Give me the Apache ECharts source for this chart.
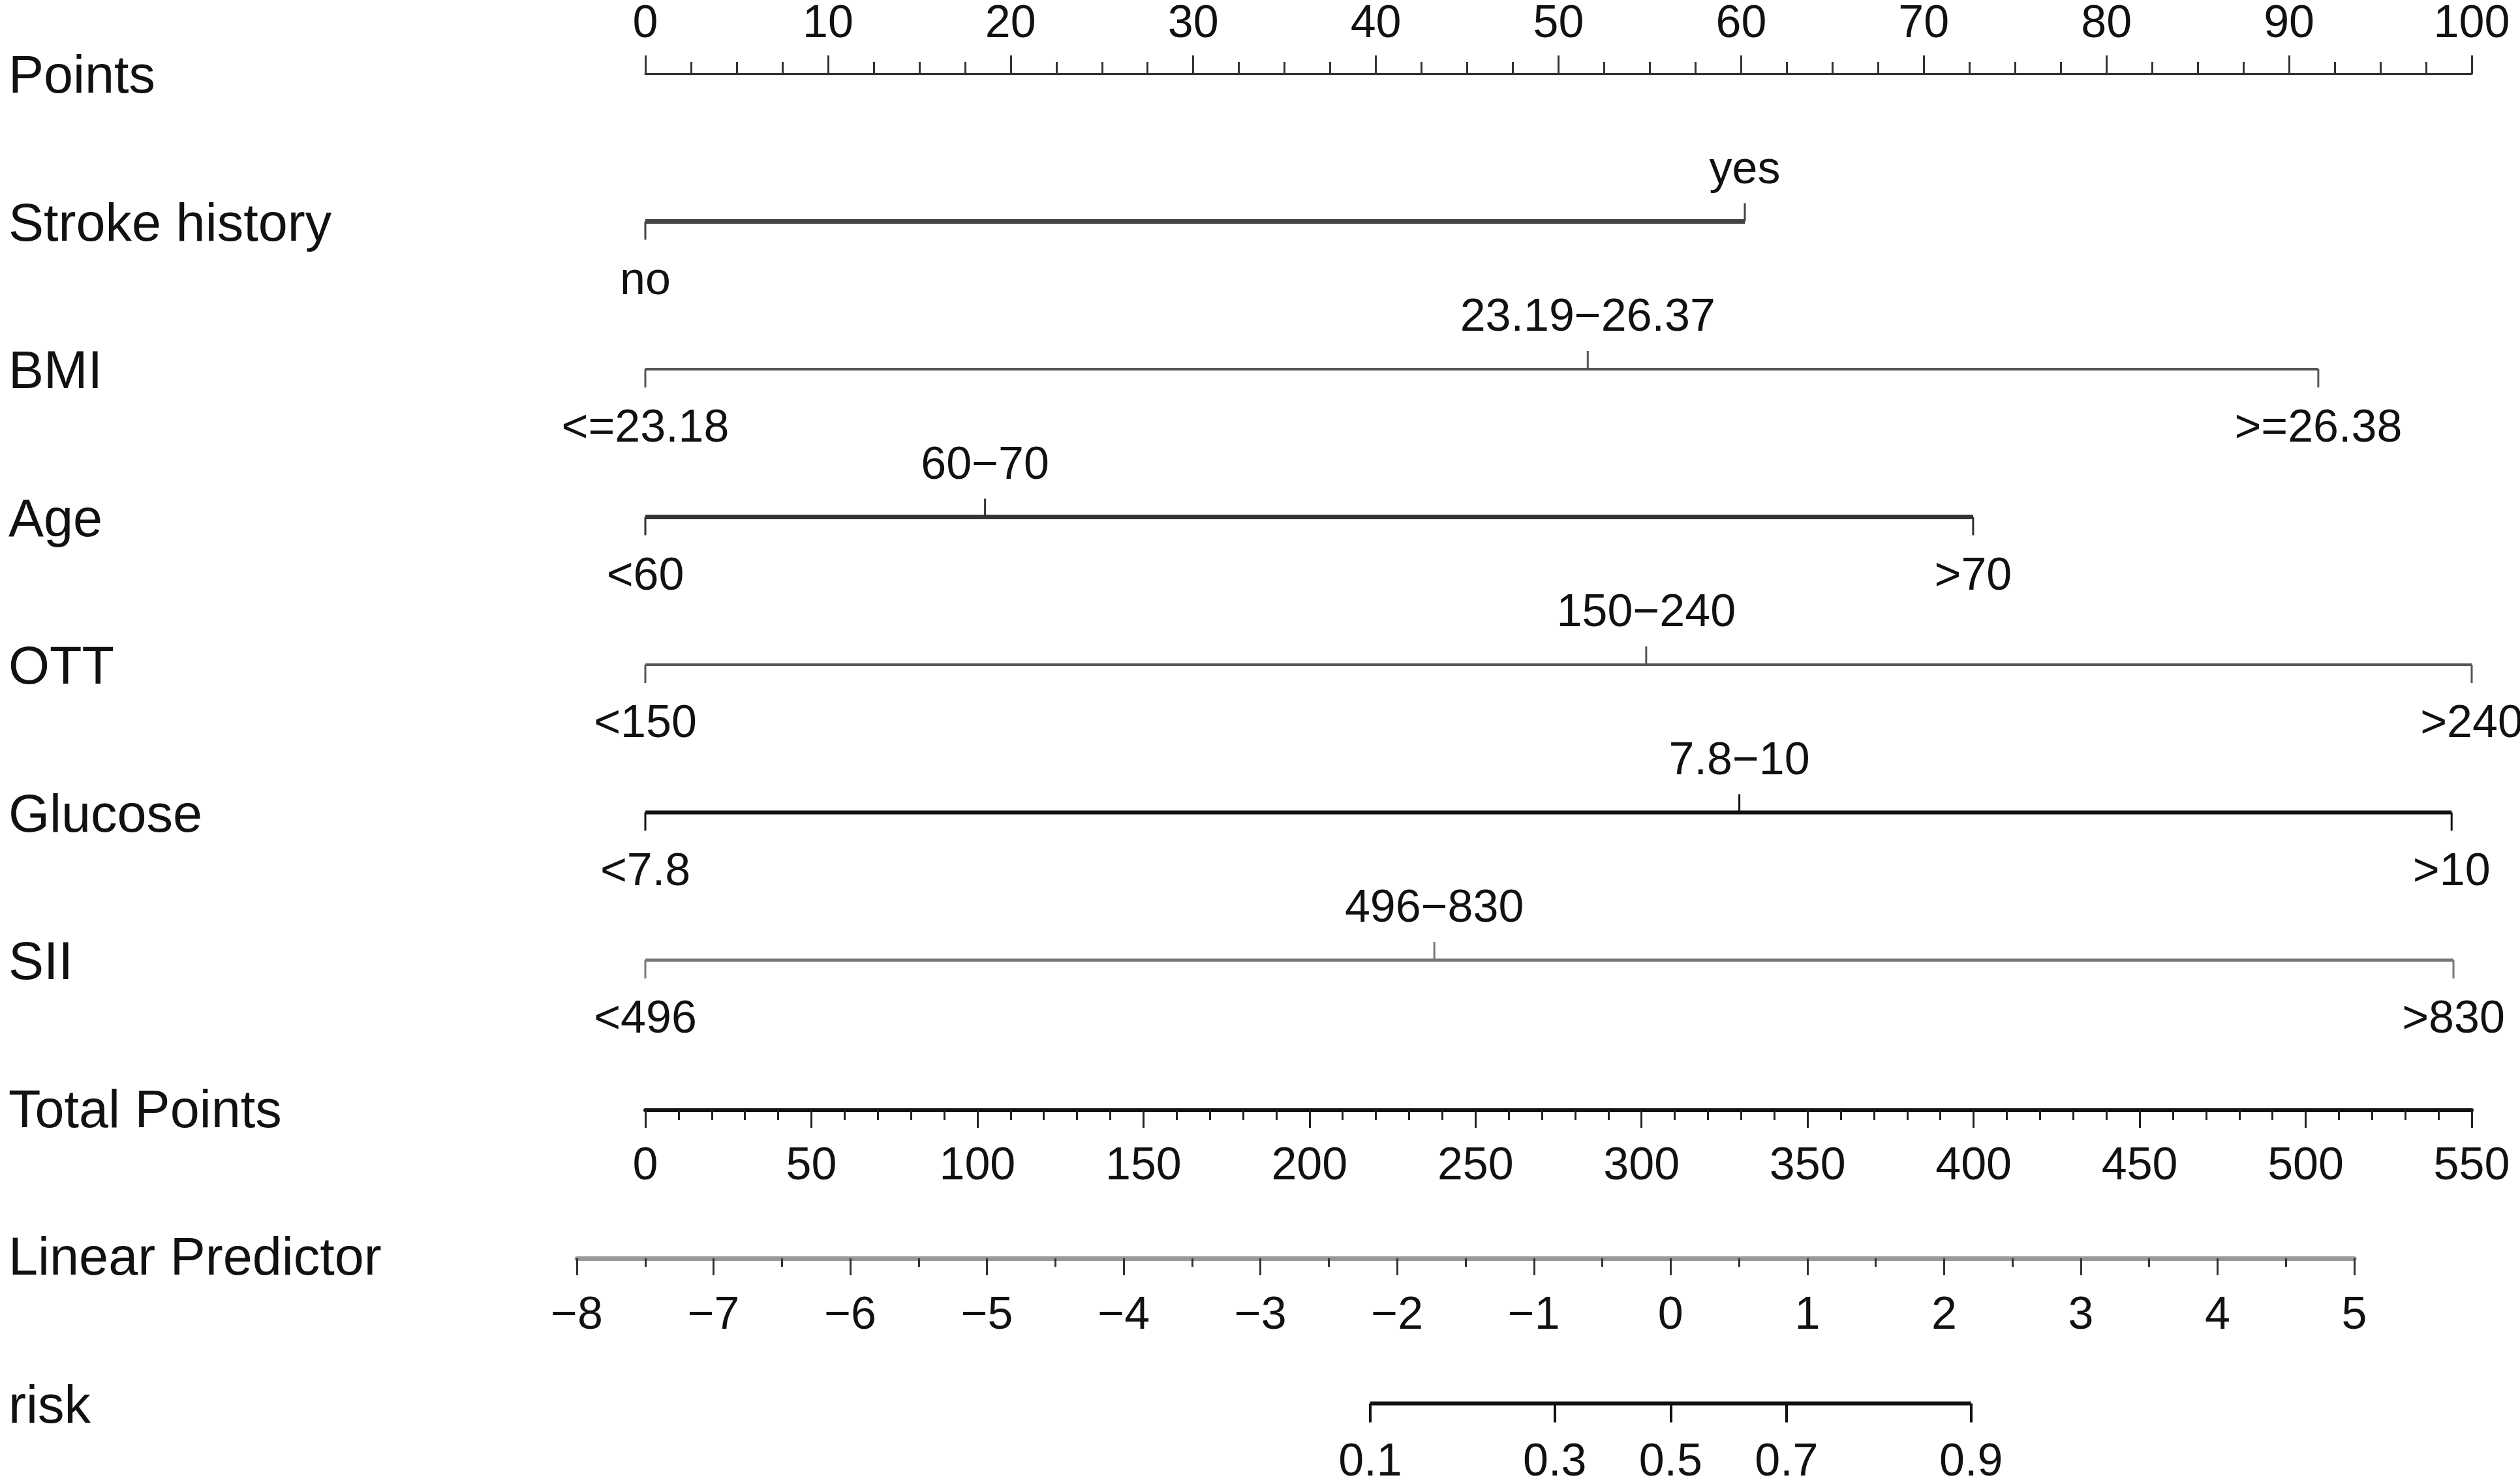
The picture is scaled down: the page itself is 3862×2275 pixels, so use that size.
<!DOCTYPE html>
<html>
<head>
<meta charset="utf-8">
<script src="https://cdn.jsdelivr.net/npm/echarts@6/dist/echarts.min.js"></script>
<style>
    html, body { margin: 0; padding: 0; background: #fff; }
    #chart { width: 3862px; height: 2275px; }
</style>
</head>
<body>
<div id="chart"></div>
<script>
const rowTitles = ['Points', 'Stroke history', 'BMI', 'Age', 'OTT', 'Glucose', 'SII', 'Total Points', 'Linear Predictor', 'risk'];

const varLabels = [
    ['no', 'yes'],
    ['<=23.18', '23.19\u221226.37', '>=26.38'],
    ['<60', '60\u221270', '>70'],
    ['<150', '150\u2212240', '>240'],
    ['<7.8', '7.8\u221210', '>10'],
    ['<496', '496\u2212830', '>830'],
];
const varPoints = [
    [0, 60.2],
    [0, 51.6, 91.6],
    [0, 18.6, 72.7],
    [0, 54.8, 100],
    [0, 59.9, 98.9],
    [0, 43.2, 99.0],
];
const riskTicks = [0.1, 0.3, 0.5, 0.7, 0.9];

const FONT = '"Liberation Sans", Arial, Helvetica, sans-serif';
const TXT = '#111';
const SMALL = 70;
// line look per variable row
const varLine = [
    { w: 7, c: '#444' },
    { w: 4, c: '#555' },
    { w: 7, c: '#333' },
    { w: 4, c: '#555' },
    { w: 6, c: '#111' },
    { w: 5, c: '#777' },
];

const minus = (v) => v < 0 ? '\u2212' + (-v) : String(v);
const logit = (p) => Math.log(p / (1 - p));

const chart = echarts.init(document.getElementById('chart'));

/** one variable row: line, ticks, level labels (alternating below / above) */
const renderVar = (params, api) => {
    const i = params.dataIndex;
    const row = api.value(1);
    const pts = varPoints[i];
    const st = varLine[i];
    const y = api.coord([0, row])[1];
    const xs = pts.map((p) => api.coord([p, row])[0]);
    const children = [{
        type: 'line',
        shape: { x1: xs[0], y1: y, x2: xs[xs.length - 1], y2: y },
        style: { stroke: st.c, lineWidth: st.w }
    }];
    xs.forEach((x, k) => {
        const up = k % 2 === 1;
        children.push({
            type: 'line',
            shape: { x1: x, y1: y, x2: x, y2: up ? y - 28 : y + 28 },
            style: { stroke: st.c, lineWidth: 3 }
        });
        children.push({
            type: 'text',
            style: {
                text: varLabels[i][k], x: x, y: up ? y - 78 : y + 92,
                align: 'center', verticalAlign: 'middle',
                fontSize: SMALL, fontFamily: FONT, fill: TXT
            }
        });
    });
    return { type: 'group', children };
};

const tickLabel = (margin) => ({
    fontSize: SMALL, fontFamily: FONT, color: TXT, margin: margin,
    showMinLabel: true, showMaxLabel: true
});

const hiddenY = (idx, max) => ({
    gridIndex: idx, type: 'value', min: 0, max: max, show: false
});

const options = {
    animation: false,
    backgroundColor: '#fff',
    grid: [
        { left: 989, right: 74, top: 113, bottom: 123.5, outerBoundsMode: 'none' },
        { left: 989, right: 74, top: 1682, height: 20, outerBoundsMode: 'none' },
        { left: 884, right: 254, top: 1909, height: 20, outerBoundsMode: 'none' },
        { left: 884, right: 254, top: 2131.5, height: 20, outerBoundsMode: 'none' },
    ],
    xAxis: [
        {
            gridIndex: 0, type: 'value', position: 'top', min: 0, max: 100, interval: 10,
            axisLine: { lineStyle: { color: '#333', width: 3 } },
            axisTick: { length: 28, lineStyle: { color: '#333', width: 3 } },
            minorTick: { show: true, splitNumber: 4, length: 18, lineStyle: { color: '#333', width: 3 } },
            axisLabel: tickLabel(40),
            splitLine: { show: false }
        },
        {
            gridIndex: 1, type: 'value', position: 'bottom', min: 0, max: 550, interval: 50,
            axisLine: { lineStyle: { color: '#111', width: 6 } },
            axisTick: { length: 27, lineStyle: { color: '#222', width: 3 } },
            minorTick: { show: true, splitNumber: 5, length: 15, lineStyle: { color: '#222', width: 3 } },
            axisLabel: tickLabel(52),
            splitLine: { show: false }
        },
        {
            gridIndex: 2, type: 'value', position: 'bottom', min: -8, max: 5, interval: 1,
            axisLine: { lineStyle: { color: '#999', width: 7 } },
            axisTick: { length: 26, lineStyle: { color: '#333', width: 3 } },
            minorTick: { show: true, splitNumber: 2, length: 13, lineStyle: { color: '#333', width: 3 } },
            axisLabel: { ...tickLabel(54), formatter: minus },
            splitLine: { show: false }
        },
        {
            gridIndex: 3, type: 'value', position: 'bottom', min: -8, max: 5,
            axisLine: { show: false },
            axisTick: { customValues: riskTicks.map(logit), length: 29, lineStyle: { color: '#111', width: 4 } },
            axisLabel: {
                ...tickLabel(56),
                customValues: riskTicks.map(logit),
                formatter: (v) => (1 / (1 + Math.exp(-v))).toFixed(1)
            },
            splitLine: { show: false }
        },
    ],
    yAxis: [
        {
            gridIndex: 0, type: 'value', min: 0, max: 9, interval: 1, inverse: true,
            axisLine: { show: false },
            axisTick: { show: false },
            splitLine: { show: false },
            axisLabel: {
                formatter: (v) => rowTitles[v] || '',
                align: 'left', margin: 976,
                verticalAlign: 'top', lineHeight: 14,
                fontSize: 81, fontFamily: FONT, color: TXT
            }
        },
        hiddenY(1, 1),
        hiddenY(2, 1),
        hiddenY(3, 1),
    ],
    series: [
        {
            type: 'custom',
            xAxisIndex: 0,
            yAxisIndex: 0,
            clip: false,
            silent: true,
            encode: { x: 0, y: 1 },
            data: varPoints.map((_, i) => [0, i + 1]),
            renderItem: renderVar
        },
        {
            type: 'line',
            xAxisIndex: 3,
            yAxisIndex: 3,
            clip: false,
            silent: true,
            symbol: 'none',
            lineStyle: { color: '#111', width: 6 },
            data: [[logit(riskTicks[0]), 0], [logit(riskTicks[riskTicks.length - 1]), 0]]
        }
    ]
};

chart.setOption(options);
</script>
</body>
</html>
